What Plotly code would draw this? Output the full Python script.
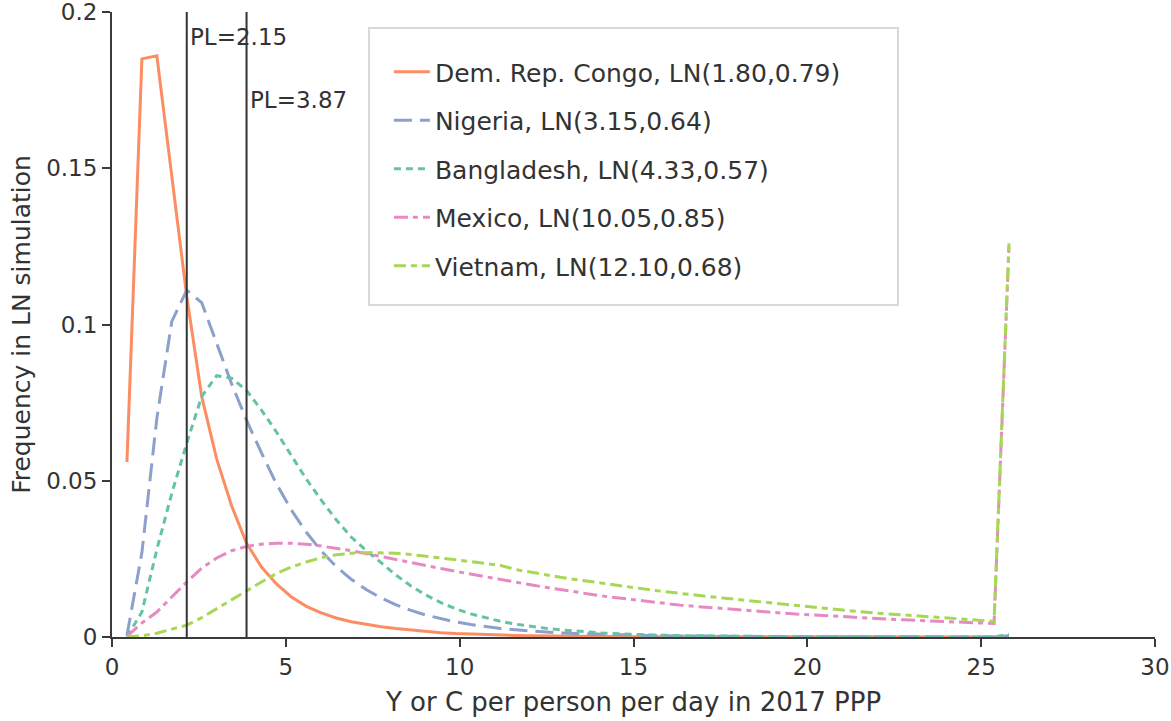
import plotly.graph_objects as go

# Bin positions (Y or C per person per day, 2017 PPP)
x_vals = [0.43, 0.86, 1.29, 1.72, 2.15, 2.58, 3.01, 3.44, 3.87, 4.3,
          4.73, 5.16, 5.59, 6.02, 6.45, 6.88, 7.31, 7.74, 8.17, 8.6,
          9.03, 9.46, 9.89, 10.32, 10.75, 11.18, 11.61, 12.04, 12.47, 12.9,
          13.33, 13.76, 14.19, 14.62, 15.05, 15.48, 15.91, 16.34, 16.77, 17.2,
          17.63, 18.06, 18.49, 18.92, 19.35, 19.78, 20.21, 20.64, 21.07, 21.5,
          21.93, 22.36, 22.79, 23.22, 23.65, 24.08, 24.51, 24.94, 25.37, 25.8]

congo = [0.056, 0.185, 0.186, 0.147, 0.109, 0.077, 0.057, 0.042, 0.030, 0.0224,
         0.0170, 0.0128, 0.0098, 0.0077, 0.0061, 0.0049, 0.0040, 0.0033, 0.0027, 0.0022,
         0.0017, 0.0014, 0.0011, 0.0009, 0.0007, 0.00057, 0.00046, 0.00037, 0.0003, 0.00024,
         0.0002, 0.00016, 0.00013, 0.0001, 0.00008, 0.00007, 0.00006, 0.00005, 0.00004, 0.00003,
         0.00003, 0.00002, 0.00002, 0.00002, 0.00001, 0.00001, 0.00001, 0.00001, 0.00001, 0.00001,
         0.0, 0.0, 0.0, 0.0, 0.0, 0.0, 0.0, 0.0, 0.0, 0.0001]

nigeria = [0.0005, 0.027, 0.070, 0.101, 0.111, 0.107, 0.094, 0.081, 0.0694, 0.0589,
           0.049, 0.0406, 0.0335, 0.0275, 0.0225, 0.0185, 0.0152, 0.0125, 0.0103, 0.0085,
           0.0070, 0.0058, 0.0048, 0.0040, 0.0033, 0.0027, 0.0023, 0.0019, 0.0016, 0.0013,
           0.0011, 0.00093, 0.00078, 0.00066, 0.00056, 0.00047, 0.0004, 0.00034, 0.00029, 0.00025,
           0.00021, 0.00018, 0.00015, 0.00013, 0.00011, 0.0001, 0.00008, 0.00007, 0.00006, 0.00005,
           0.00005, 0.00004, 0.00004, 0.00003, 0.00003, 0.00002, 0.00002, 0.00002, 0.00002, 0.0004]

bangladesh = [0.0001, 0.008, 0.028, 0.046, 0.062, 0.077, 0.0836, 0.0828, 0.0789, 0.0726,
              0.0656, 0.0582, 0.0505, 0.0438, 0.0375, 0.032, 0.0277, 0.0238, 0.0198, 0.0163,
              0.0134, 0.0110, 0.0090, 0.0074, 0.0061, 0.0050, 0.0041, 0.0034, 0.0028, 0.0023,
              0.0019, 0.0015, 0.0012, 0.0010, 0.0008, 0.00066, 0.00055, 0.00045, 0.00037, 0.0003,
              0.00025, 0.0002, 0.00017, 0.00014, 0.00012, 0.0001, 0.00008, 0.00007, 0.00006, 0.00005,
              0.00004, 0.00004, 0.00003, 0.00003, 0.00002, 0.00002, 0.00002, 0.00002, 0.00001, 0.0009]

mexico = [0.0002, 0.0045, 0.008, 0.0128, 0.0176, 0.022, 0.0253, 0.0276, 0.029, 0.0297,
          0.0300, 0.0300, 0.0297, 0.0291, 0.0284, 0.0276, 0.0267, 0.0257, 0.0247, 0.0237,
          0.0228, 0.0219, 0.0210, 0.0201, 0.0192, 0.0183, 0.0175, 0.0167, 0.0159, 0.0151,
          0.0144, 0.0137, 0.0130, 0.0124, 0.0118, 0.0112, 0.0107, 0.0102, 0.0098, 0.0094,
          0.0090, 0.0086, 0.0082, 0.0079, 0.0076, 0.0073, 0.0070, 0.0067, 0.0064, 0.0062,
          0.0059, 0.0057, 0.0055, 0.0053, 0.0051, 0.0049, 0.0047, 0.0045, 0.0043, 0.125]

vietnam = [0.0, 0.0004, 0.0012, 0.0024, 0.0038, 0.0062, 0.0091, 0.0118, 0.0147, 0.0176,
           0.0203, 0.0224, 0.0240, 0.0254, 0.0263, 0.0268, 0.0270, 0.0270, 0.0268, 0.0264,
           0.0259, 0.0253, 0.0247, 0.0241, 0.0235, 0.0229, 0.0216, 0.0207, 0.0199, 0.0191,
           0.0184, 0.0177, 0.0170, 0.0164, 0.0157, 0.0151, 0.0145, 0.0139, 0.0134, 0.0129,
           0.0124, 0.0119, 0.0114, 0.0109, 0.0104, 0.0099, 0.0094, 0.0089, 0.0085, 0.0081,
           0.0077, 0.0073, 0.0069, 0.0067, 0.0064, 0.0061, 0.0058, 0.0054, 0.0050, 0.126]

series_names = ["Dem. Rep. Congo, LN(1.80,0.79)", "Nigeria, LN(3.15,0.64)",
                "Bangladesh, LN(4.33,0.57)", "Mexico, LN(10.05,0.85)",
                "Vietnam, LN(12.10,0.68)"]
series_values = [congo, nigeria, bangladesh, mexico, vietnam]
colors = ["#fc8d62", "#8da0cb", "#66c2a5", "#e78ac3", "#a6d854"]
dashes = ["solid", "18px,8px", "7px,5px", "14px,5px,5px,5px", "12px,5px,6px,5px"]

poverty_lines = [2.15, 3.87]
pl_labels = ["PL=2.15", "PL=3.87"]
pl_label_y = [0.192, 0.172]

FONT = "DejaVu Sans"
TXT = "#333333"

fig = go.Figure()
for i, (name, vals) in enumerate(zip(series_names, series_values)):
    fig.add_trace(go.Scatter(
        x=x_vals, y=vals, mode="lines", name=name, legendgroup=f"g{i}",
        line=dict(color=colors[i], width=3, dash=dashes[i]),
    ))

for pl, lab, ly in zip(poverty_lines, pl_labels, pl_label_y):
    fig.add_shape(type="line", xref="x", yref="y", x0=pl, x1=pl, y0=0, y1=0.2,
                  line=dict(color="#333333", width=2))
    fig.add_annotation(x=pl, y=ly, xref="x", yref="y", text=lab, showarrow=False,
                       xanchor="left", yanchor="middle", xshift=1,
                       font=dict(family=FONT, size=23, color=TXT))

# legend frame
fig.add_shape(type="rect", xref="paper", yref="paper",
              x0=0.2464, x1=0.7536, y0=0.5312, y1=0.9744,
              line=dict(color="#d9d9d9", width=2), fillcolor="white", layer="above")

fig.update_layout(
    width=1171, height=721,
    margin=dict(l=112, r=16, t=12, b=84),
    paper_bgcolor="white", plot_bgcolor="white",
    font=dict(family=FONT, color=TXT),
    legend=dict(x=0.2655, y=0.9408, xanchor="left", yanchor="top",
                bgcolor="rgba(0,0,0,0)", borderwidth=0,
                font=dict(family=FONT, size=25, color=TXT),
                itemwidth=36, tracegroupgap=13),
    showlegend=True,
)
fig.update_xaxes(range=[0, 30], tickvals=[0, 5, 10, 15, 20, 25, 30],
                 automargin=False,
                 showline=True, linecolor="#3a3a3a", linewidth=2,
                 ticks="outside", ticklen=8, tickwidth=2, tickcolor="#3a3a3a",
                 showgrid=False, zeroline=False,
                 tickfont=dict(family=FONT, size=23, color=TXT),
                 title=dict(text="Y or C per person per day in 2017 PPP",
                            font=dict(family=FONT, size=26, color=TXT), standoff=14))
fig.update_yaxes(range=[0, 0.2], tickvals=[0, 0.05, 0.1, 0.15, 0.2],
                 ticktext=["0", "0.05", "0.1", "0.15", "0.2"],
                 automargin=False, ticklabeloverflow="allow",
                 showline=True, linecolor="#3a3a3a", linewidth=2,
                 ticks="outside", ticklen=8, tickwidth=2, tickcolor="#3a3a3a",
                 showgrid=False, zeroline=False,
                 tickfont=dict(family=FONT, size=23, color=TXT),
                 title=dict(text="Frequency in LN simulation",
                            font=dict(family=FONT, size=25, color=TXT), standoff=8))

fig.write_html("out.html")
